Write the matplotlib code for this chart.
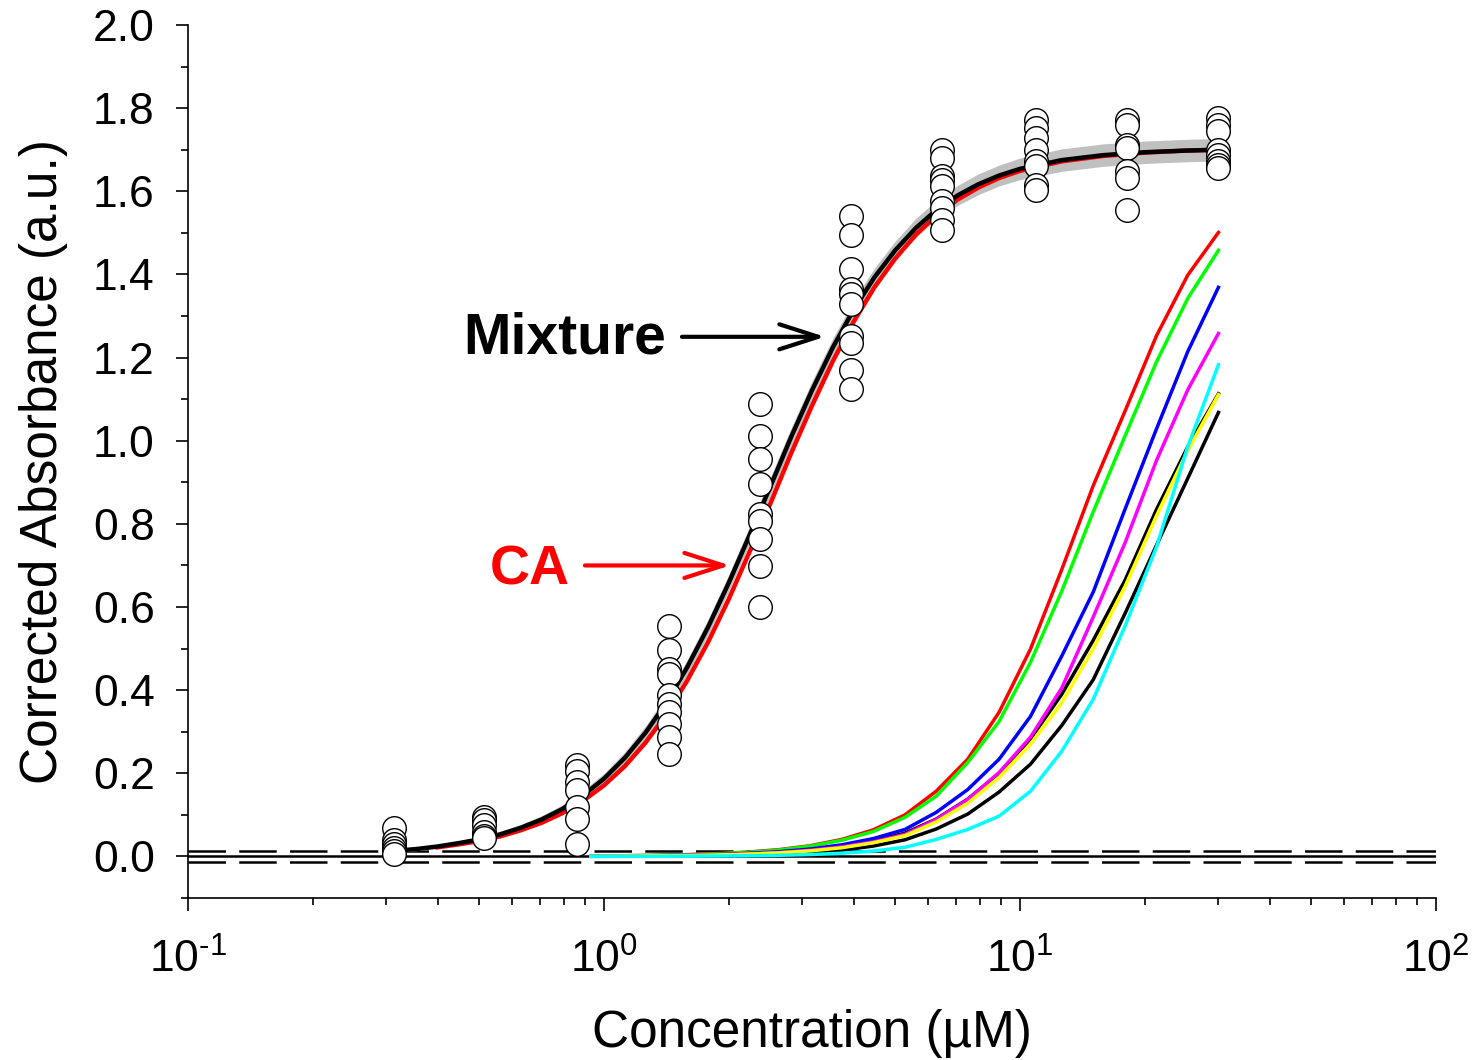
import numpy as np
import matplotlib
matplotlib.use("Agg")
import matplotlib.pyplot as plt
from matplotlib.ticker import LogLocator, MultipleLocator, FixedLocator, NullFormatter

plt.rcParams["font.family"] = ["Liberation Sans", "DejaVu Sans"]
plt.rcParams["mathtext.fontset"] = "custom"
plt.rcParams["mathtext.rm"] = "Liberation Sans"
plt.rcParams["mathtext.default"] = "regular"

# measured data (open circles), replicates per concentration (uM)
obs_conc = [0.313, 0.515, 0.861, 1.43, 2.37, 3.93, 6.49, 10.9, 18.1, 30.0]
obs_values = [
    [0.068, 0.040, 0.030, 0.020, 0.012, 0.005],
    [0.095, 0.088, 0.075, 0.060, 0.050, 0.045],
    [0.220, 0.205, 0.180, 0.160, 0.120, 0.090, 0.030],
    [0.554, 0.496, 0.451, 0.439, 0.388, 0.366, 0.347, 0.318, 0.287, 0.246],
    [1.089, 1.012, 0.957, 0.896, 0.824, 0.807, 0.764, 0.699, 0.600],
    [1.540, 1.494, 1.412, 1.366, 1.352, 1.330, 1.251, 1.234, 1.171, 1.125],
    [1.699, 1.680, 1.636, 1.627, 1.612, 1.576, 1.559, 1.530, 1.506],
    [1.771, 1.752, 1.728, 1.699, 1.672, 1.660, 1.614, 1.602],
    [1.771, 1.759, 1.711, 1.704, 1.648, 1.631, 1.554],
    [1.776, 1.759, 1.745, 1.699, 1.687, 1.672, 1.663, 1.655],
]

# mixture fit (black) with its confidence band (grey)
mix_conc = [0.31, 0.355, 0.398, 0.447, 0.501, 0.562, 0.631, 0.708, 0.794, 0.891,
            1.0, 1.122, 1.259, 1.413, 1.585, 1.778, 1.995, 2.239, 2.512, 2.818,
            3.162, 3.548, 3.981, 4.467, 5.012, 5.623, 6.310, 7.079, 7.943, 8.913,
            10.0, 12.59, 15.85, 19.95, 25.12, 30.0]
mix_fit = [0.013, 0.018, 0.024, 0.032, 0.041, 0.053, 0.069, 0.089, 0.114, 0.147,
           0.187, 0.237, 0.298, 0.370, 0.455, 0.551, 0.658, 0.773, 0.890, 1.009,
           1.121, 1.224, 1.315, 1.393, 1.458, 1.512, 1.556, 1.590, 1.617, 1.638,
           1.654, 1.675, 1.687, 1.694, 1.698, 1.700]
mix_band = [0.004, 0.004, 0.005, 0.005, 0.006, 0.007, 0.008, 0.009, 0.010, 0.012,
            0.013, 0.014, 0.016, 0.017, 0.018, 0.019, 0.020, 0.021, 0.022, 0.022,
            0.022, 0.022, 0.022, 0.022, 0.022, 0.023, 0.023, 0.024, 0.025, 0.025,
            0.026, 0.027, 0.027, 0.027, 0.027, 0.027]

# concentration addition prediction (red)
ca_conc = [0.398, 0.447, 0.501, 0.562, 0.631, 0.708, 0.794, 0.891,
           1.0, 1.122, 1.259, 1.413, 1.585, 1.778, 1.995, 2.239, 2.512, 2.818,
           3.162, 3.548, 3.981, 4.467, 5.012, 5.623, 6.310, 7.079, 7.943, 8.913,
           10.0, 12.59, 15.85, 19.95, 25.12, 30.0]
ca_pred = [0.022, 0.029, 0.037, 0.048, 0.063, 0.081, 0.104, 0.134,
           0.171, 0.217, 0.274, 0.342, 0.423, 0.515, 0.619, 0.733, 0.849, 0.970,
           1.084, 1.191, 1.286, 1.369, 1.438, 1.496, 1.543, 1.580, 1.609, 1.632,
           1.649, 1.672, 1.685, 1.693, 1.698, 1.700]

# single-compound curves
comp_conc = [0.93, 1.10, 1.31, 1.57, 1.86, 2.21, 2.64, 3.14, 3.73, 4.44, 5.29,
             6.29, 7.49, 8.91, 10.6, 12.6, 15.0, 17.9, 21.3, 25.3, 30.0]
comp_black1 = [0.0006, 0.0010, 0.0016, 0.0025, 0.0040, 0.0062, 0.0097, 0.015, 0.024, 0.037, 0.056,
               0.090, 0.138, 0.200, 0.283, 0.390, 0.520, 0.665, 0.835, 0.985, 1.113]
comp_black2 = [0.0003, 0.0005, 0.0008, 0.0013, 0.0021, 0.0035, 0.0057, 0.0093, 0.015, 0.025, 0.040,
               0.066, 0.102, 0.155, 0.222, 0.315, 0.425, 0.585, 0.749, 0.909, 1.068]
comp_red = [0.0011, 0.0017, 0.0027, 0.0042, 0.0067, 0.0105, 0.0165, 0.026, 0.041, 0.064, 0.100,
            0.157, 0.234, 0.347, 0.499, 0.690, 0.892, 1.072, 1.253, 1.398, 1.501]
comp_green = [0.0010, 0.0016, 0.0025, 0.0039, 0.0062, 0.0098, 0.0155, 0.025, 0.039, 0.060, 0.094,
              0.145, 0.226, 0.325, 0.467, 0.638, 0.829, 1.012, 1.190, 1.342, 1.458]
comp_blue = [0.0007, 0.0011, 0.0018, 0.0029, 0.0046, 0.0073, 0.0115, 0.018, 0.028, 0.043, 0.065,
             0.106, 0.161, 0.234, 0.337, 0.482, 0.636, 0.836, 1.029, 1.214, 1.369]
comp_magenta = [0.0006, 0.0010, 0.0016, 0.0025, 0.0040, 0.0062, 0.0097, 0.015, 0.023, 0.035, 0.053,
                0.089, 0.137, 0.202, 0.287, 0.405, 0.576, 0.755, 0.953, 1.122, 1.258]
comp_yellow = [0.0005, 0.0009, 0.0014, 0.0022, 0.0035, 0.0055, 0.0087, 0.0135, 0.021, 0.033, 0.050,
               0.083, 0.128, 0.190, 0.270, 0.370, 0.500, 0.650, 0.820, 0.976, 1.111]
comp_cyan = [0.0001, 0.0002, 0.0003, 0.0006, 0.0010, 0.0017, 0.0028, 0.0047, 0.0078, 0.013, 0.022,
             0.041, 0.065, 0.097, 0.157, 0.253, 0.378, 0.555, 0.745, 0.985, 1.183]

fig = plt.figure(figsize=(14.79, 10.60), dpi=100)
ax = fig.add_axes([0.1271, 0.1528, 0.8438, 0.8236])

# reference lines
ax.axhline(0.0, color="black", lw=1.8, zorder=1)
for yy in (0.013, -0.013):
    ax.axhline(yy, color="black", lw=1.8, dashes=(15, 5.3), zorder=1)

# component curves
comp_series = [
    (comp_black1, "#000000"),
    (comp_black2, "#000000"),
    (comp_red, "#ff0000"),
    (comp_green, "#00ff00"),
    (comp_blue, "#0000ff"),
    (comp_magenta, "#ff00ff"),
    (comp_yellow, "#ffff00"),
    (comp_cyan, "#00ffff"),
]
for vals, col in comp_series:
    ax.plot(comp_conc, vals, color=col, lw=2.5, zorder=2)

# mixture fit with confidence band, and CA prediction
mix_fit_arr = np.array(mix_fit)
band = np.array(mix_band)
ax.fill_between(mix_conc, mix_fit_arr - band, mix_fit_arr + band,
                color="#c0c0c0", lw=0, zorder=3)
ax.plot(ca_conc, ca_pred, color="#ff0000", lw=3.2, zorder=4)
ax.plot(mix_conc, mix_fit, color="black", lw=3.2, zorder=5)

# measured points
for c, vals in zip(obs_conc, obs_values):
    ax.plot([c] * len(vals), vals, "o", ms=17, mfc="white", mec="black",
            mew=1.0, zorder=6, clip_on=False)

# annotations
arrow_style = "->,head_length=1.4,head_width=0.45"
ax.text(0.458, 1.21, "Mixture", fontsize=41, fontweight="bold", color="black",
        ha="left", va="baseline")
ax.annotate("", xy=(3.40, 1.25), xytext=(1.54, 1.25),
            arrowprops=dict(arrowstyle=arrow_style, color="black", lw=3,
                            shrinkA=0, shrinkB=0, mutation_scale=20))
ax.text(0.532, 0.653, "CA", fontsize=40, fontweight="bold", color="#ff0000",
        ha="left", va="baseline")
ax.annotate("", xy=(2.01, 0.70), xytext=(0.90, 0.70),
            arrowprops=dict(arrowstyle=arrow_style, color="#ff0000", lw=3,
                            shrinkA=0, shrinkB=0, mutation_scale=20))

# axes
ax.set_xscale("log")
ax.set_xlim(0.1, 100)
ax.set_ylim(-0.1, 2.0)
ax.spines["top"].set_visible(False)
ax.spines["right"].set_visible(False)
for s in ("left", "bottom"):
    ax.spines[s].set_linewidth(1.2)

ax.xaxis.set_major_locator(FixedLocator([0.1, 1, 10, 100]))
ax.xaxis.set_minor_locator(LogLocator(base=10, subs=np.arange(2, 10)))
ax.xaxis.set_minor_formatter(NullFormatter())
ax.set_xticklabels([r"$10^{\text{-}1}$", r"$10^{0}$", r"$10^{1}$", r"$10^{2}$"])
ax.yaxis.set_major_locator(FixedLocator(np.round(np.arange(0, 2.01, 0.2), 1)))
ax.yaxis.set_minor_locator(MultipleLocator(0.1))
ax.yaxis.set_major_formatter(plt.FuncFormatter(lambda v, p: f"{v:.1f}"))

ax.tick_params(which="major", direction="out", length=9, width=1.2,
               labelsize=32)
ax.tick_params(which="minor", direction="out", length=5, width=1.2)
ax.tick_params(axis="y", which="major", pad=15)
ax.tick_params(axis="x", which="major", pad=20)

ax.set_xlabel("Concentration (\u00b5M)", fontsize=37, labelpad=20)
ax.set_ylabel("Corrected Absorbance (a.u.)", fontsize=37, labelpad=18)

fig.savefig("out.png", dpi=100)
